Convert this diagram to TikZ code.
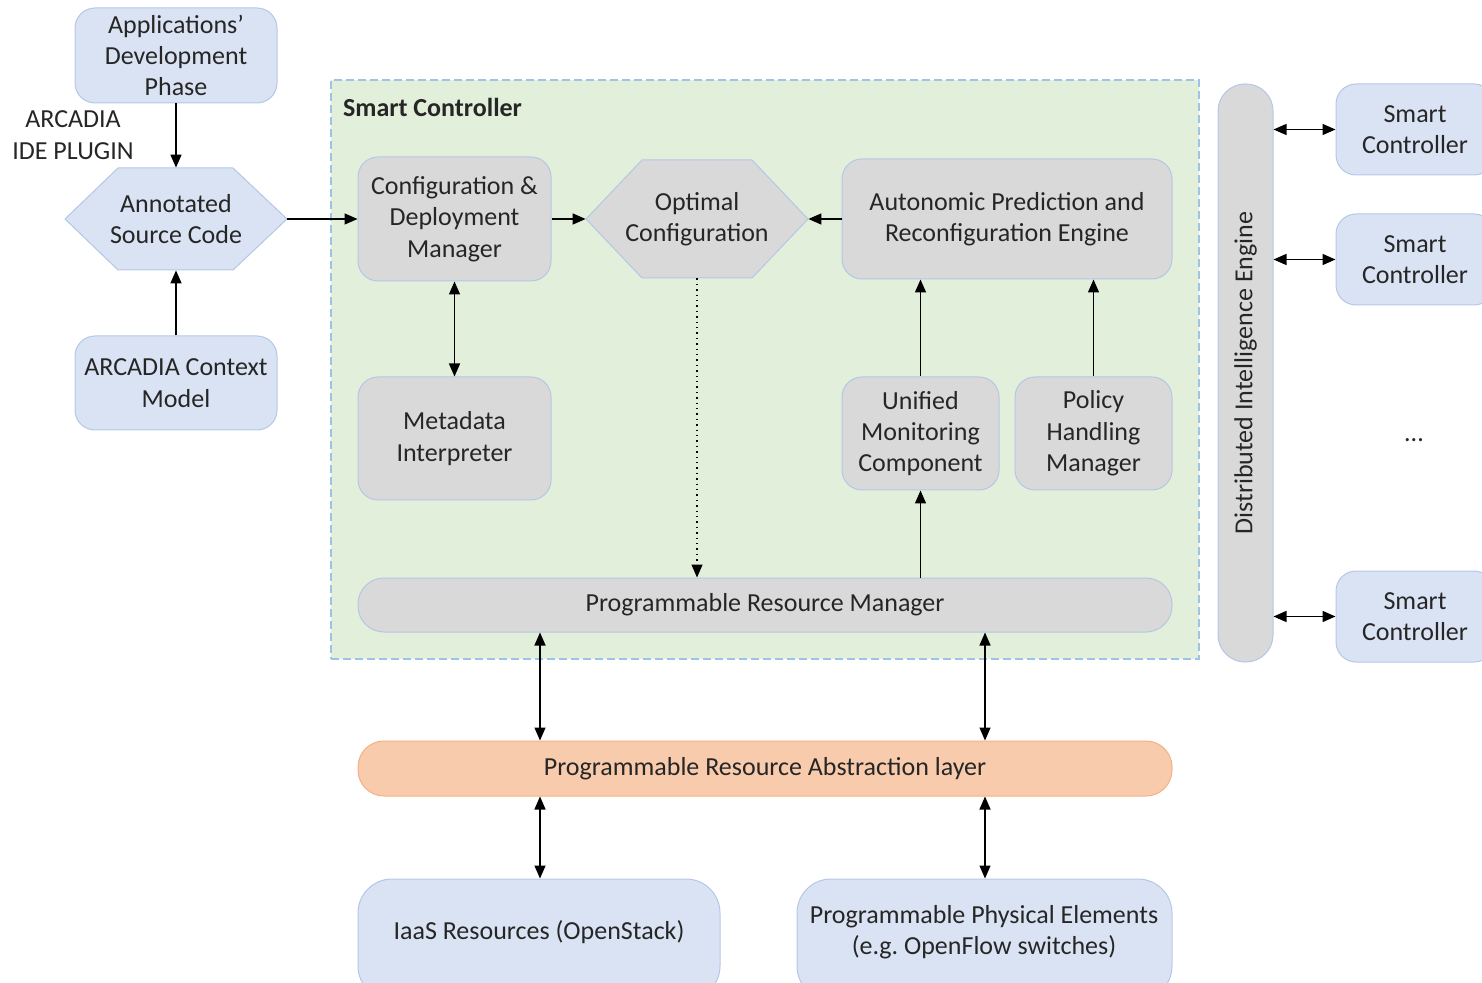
\documentclass[tikz,border=0pt]{standalone}
\usepackage{fontspec}
\setmainfont{Carlito}
\usetikzlibrary{arrows.meta}
\definecolor{bfill}{HTML}{DAE3F3}
\definecolor{bline}{HTML}{B4C7E7}
\definecolor{gfill}{HTML}{D9D9D9}
\definecolor{grfill}{HTML}{E2EFDA}
\definecolor{dline}{HTML}{9DC3E6}
\definecolor{ofill}{HTML}{F8CBAD}
\definecolor{oline}{HTML}{F4B183}
\definecolor{txt}{HTML}{262626}
\frenchspacing
\begin{document}
\begin{tikzpicture}[x=0.5pt,y=-0.5pt,
  font=\fontsize{13}{15.7}\selectfont, text=txt,
  basebox/.style={draw=bline, line width=0.5pt, rounded corners=10pt, inner sep=0pt, align=center},
  bluebox/.style={basebox, fill=bfill},
  greybox/.style={basebox, fill=gfill},
  wh/.style n args={2}{minimum width=#1, minimum height=#2},
  tip/.tip={Triangle[length=6.5pt,width=5.5pt]},
  arr/.style={-tip, line width=0.7pt, black},
  darr/.style={tip-tip, line width=0.7pt, black},
  hexshape/.style={draw=bline, line width=0.5pt},
  hexlabel/.style={inner sep=0pt, align=center}]
\useasboundingbox (0,0) rectangle (1482,983);

% container
\node[draw=dline, fill=grfill, dash pattern=on 4pt off 2pt, line width=0.7pt, inner sep=0pt, wh={434pt}{289.5pt}] (sc) at (765,369.5) {};
\node[anchor=west, font=\fontsize{13}{15.7}\selectfont\bfseries] (sctitle) at (336,107) {Smart Controller};

% left column
\node[bluebox, wh={101pt}{47.5pt}] (adp) at (176,55.5) {Applications’\\Development\\Phase};
\node[align=center] (plugin) at (73,135) {ARCADIA\\IDE PLUGIN};
\draw[hexshape, fill=bfill] (65,219) -- (118,168) -- (233,168) -- (287,219) -- (233,270) -- (118,270) -- cycle;
\node[hexlabel, wh={111pt}{51pt}] (asc) at (176,219) {Annotated\\Source Code};
\node[bluebox, wh={101pt}{47pt}] (acm) at (176,383) {ARCADIA Context\\Model};

% inside smart controller
\node[greybox, wh={96.5pt}{62pt}] (cdm) at (454.5,219) {Configuration \&\\Deployment\\Manager};
\draw[hexshape, fill=gfill] (586,219) -- (642,160) -- (752,160) -- (808,219) -- (752,278) -- (642,278) -- cycle;
\node[hexlabel, wh={111pt}{59pt}] (oc) at (697,219) {Optimal\\Configuration};
\node[greybox, wh={165pt}{60pt}] (apre) at (1007,219) {Autonomic Prediction and\\Reconfiguration Engine};
\node[greybox, wh={96.5pt}{61.5pt}] (mi) at (454.5,438.5) {Metadata\\Interpreter};
\node[greybox, wh={78.5pt}{56.5pt}] (umc) at (920.5,433.5) {Unified\\Monitoring\\Component};
\node[greybox, wh={78.5pt}{56.5pt}] (phm) at (1093.5,433.5) {Policy\\Handling\\Manager};
\node[greybox, rounded corners=13pt, wh={407pt}{27pt}] (prm) at (765,605) {Programmable Resource Manager};

% lower
\node[basebox, fill=ofill, draw=oline, rounded corners=13pt, wh={407pt}{27.5pt}] (pral) at (765,768.5) {Programmable Resource Abstraction layer};
\node[bluebox, rounded corners=17pt, wh={181pt}{60.5pt}] (iaas) at (539,939.5) {};
\node (iaastext) at (539,932) {IaaS Resources (OpenStack)};
\node[bluebox, rounded corners=17pt, wh={187.5pt}{60.5pt}] (ppe) at (984.5,939.5) {};
\node[align=center] (ppetext) at (984,932) {Programmable Physical Elements\\(e.g. OpenFlow switches)};

% right
\node[greybox, rounded corners=13.5pt, wh={27.5pt}{289pt}] (die) at (1245.5,373) {};
\node[rotate=90] (dietext) at (die.center) {Distributed Intelligence Engine};
\node[bluebox, wh={79pt}{45.5pt}] (sc1) at (1415,129.5) {Smart\\Controller};
\node[bluebox, wh={79pt}{45.5pt}] (sc2) at (1415,259.5) {Smart\\Controller};
\node[bluebox, wh={79pt}{45.5pt}] (sc3) at (1415,616.5) {Smart\\Controller};
\node (dots) at (1414,440) {...};

% coordinates for vertical links
\coordinate (xl) at (540,0);
\coordinate (xr) at (985,0);

% connectors
\draw[arr] (adp.south) -- (asc.north);
\draw[arr] (acm.north) -- (asc.south);
\draw[arr] (asc.east) -- (cdm.west);
\draw[arr] (cdm.east) -- (oc.west);
\draw[arr] (apre.west) -- (oc.east);
\draw[darr] (cdm.south) -- (mi.north);
\draw[arr] (umc.north) -- (apre.south -| umc.north);
\draw[arr] (phm.north) -- (apre.south -| phm.north);
\draw[arr, dotted, line width=0.6pt] (oc.south) -- (prm.north -| oc.south);
\draw[arr] (prm.north -| umc.south) -- (umc.south);
\draw[darr] (prm.south -| xl) -- (pral.north -| xl);
\draw[darr] (prm.south -| xr) -- (pral.north -| xr);
\draw[darr] (pral.south -| xl) -- (iaas.north -| xl);
\draw[darr] (pral.south -| xr) -- (ppe.north -| xr);
\draw[darr] (die.east |- sc1.west) -- (sc1.west);
\draw[darr] (die.east |- sc2.west) -- (sc2.west);
\draw[darr] (die.east |- sc3.west) -- (sc3.west);
\end{tikzpicture}
\end{document}
